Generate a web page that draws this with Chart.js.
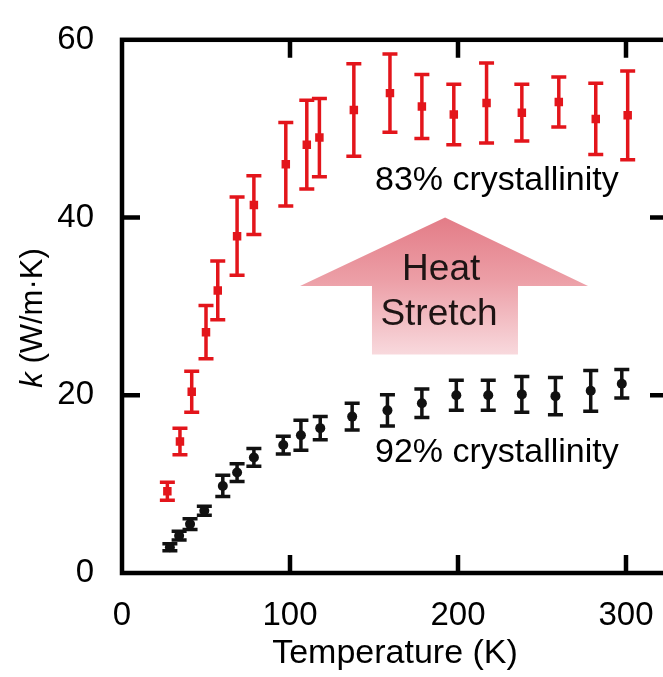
<!DOCTYPE html>
<html>
<head>
<meta charset="utf-8">
<script src="https://cdn.jsdelivr.net/npm/chart.js@4.4.0/dist/chart.umd.min.js"></script>
<style>
  html, body { margin: 0; padding: 0; background: #fff; overflow: hidden; }
  #graph { display: block; }
</style>
</head>
<body>
<canvas id="graph" width="680" height="677"></canvas>
<script>
// tick labels
const xTicks = [0, 100, 200, 300];
const yTicks = [0, 20, 40, 60];

// 83% crystallinity (heat stretched), red squares
const redTemp = [27, 34.5, 41.5, 50, 57, 68.5, 78.5, 97.5, 110, 117.5, 138, 159.5, 178.5, 197.5, 217, 238, 260, 282, 301];
const redK = [9.2, 14.8, 20.4, 27.1, 31.8, 37.9, 41.4, 46.0, 48.2, 49.0, 52.1, 54.0, 52.5, 51.6, 52.9, 51.8, 53.0, 51.1, 51.5];
const redErr = [1.0, 1.5, 2.3, 3.0, 3.3, 4.4, 3.3, 4.7, 5.0, 4.4, 5.2, 4.4, 3.6, 3.4, 4.5, 3.2, 2.8, 4.0, 5.0];

// 92% crystallinity, black dots
const blackTemp = [28.5, 34, 40.5, 49, 60, 68.5, 78.5, 96, 106.5, 118, 137, 158, 178.5, 199, 218, 238, 258, 279, 297.5];
const blackK = [2.9, 4.2, 5.5, 7.0, 9.8, 11.3, 13.0, 14.4, 15.5, 16.3, 17.6, 18.3, 19.1, 20.0, 20.0, 20.1, 19.9, 20.5, 21.3];
const blackErr = [0.4, 0.5, 0.6, 0.5, 1.2, 1.0, 1.0, 1.0, 1.7, 1.3, 1.5, 1.75, 1.6, 1.7, 1.7, 2.0, 2.1, 2.3, 1.6];

const RED = '#e3151b';
const BLACK = '#111111';
const FONT = 'Liberation Sans, Arial, sans-serif';

function points(xs, ys, es) {
    return xs.map((x, i) => ({ x: x, y: ys[i], err: es[i] }));
}

// error bars, drawn from the dataset values through the scales
const errorBars = {
    id: 'errorBars',
    beforeDatasetsDraw(chart) {
        const ctx = chart.ctx;
        const xs = chart.scales.x;
        const ys = chart.scales.y;
        chart.data.datasets.forEach(ds => {
            ctx.save();
            ctx.strokeStyle = ds.borderColor;
            ctx.lineWidth = 3.5;
            ds.data.forEach(p => {
                const x = xs.getPixelForValue(p.x);
                const y1 = ys.getPixelForValue(p.y - p.err);
                const y2 = ys.getPixelForValue(p.y + p.err);
                ctx.beginPath();
                ctx.moveTo(x, y1); ctx.lineTo(x, y2);
                ctx.moveTo(x - 7.5, y1); ctx.lineTo(x + 7.5, y1);
                ctx.moveTo(x - 7.5, y2); ctx.lineTo(x + 7.5, y2);
                ctx.stroke();
            });
            ctx.restore();
        });
    }
};

// arrow + text labels (placed in data units)
const annotations = {
    id: 'annotations',
    beforeDatasetsDraw(chart) {
        const ctx = chart.ctx;
        const xs = chart.scales.x;
        const ys = chart.scales.y;
        const X = v => xs.getPixelForValue(v);
        const Y = v => ys.getPixelForValue(v);

        const arrow = [
            [192.3, 40.0], [277.4, 32.3], [235.7, 32.3], [235.7, 24.6],
            [148.8, 24.6], [148.8, 32.3], [106, 32.3]
        ];
        const grad = ctx.createLinearGradient(0, Y(40), 0, Y(24.6));
        grad.addColorStop(0, '#e37c87');
        grad.addColorStop(0.45, '#ec9ea6');
        grad.addColorStop(1, '#f8d9dd');
        ctx.save();
        ctx.fillStyle = grad;
        ctx.beginPath();
        arrow.forEach((p, i) => {
            if (i === 0) ctx.moveTo(X(p[0]), Y(p[1]));
            else ctx.lineTo(X(p[0]), Y(p[1]));
        });
        ctx.closePath();
        ctx.fill();

        ctx.fillStyle = '#1e1414';
        ctx.textBaseline = 'middle';
        ctx.textAlign = 'center';
        ctx.font = '37px ' + FONT;
        ctx.fillText('Heat', X(190), Y(34.1));
        ctx.fillText('Stretch', X(188.7), Y(29.1));

        ctx.fillStyle = '#000';
        ctx.textAlign = 'left';
        ctx.font = '34px ' + FONT;
        ctx.fillText('83% crystallinity', X(150.6), Y(44.2));
        ctx.fillText('92% crystallinity', X(150.6), Y(13.5));
        ctx.restore();
    }
};

// box frame with inward ticks, plus the y axis title with italic k
const frame = {
    id: 'frame',
    afterDatasetsDraw(chart) {
        const ctx = chart.ctx;
        const a = chart.chartArea;
        const xs = chart.scales.x;
        const ys = chart.scales.y;
        ctx.save();
        ctx.strokeStyle = '#000';
        ctx.lineWidth = 4.5;
        ctx.strokeRect(a.left, a.top, a.right - a.left, a.bottom - a.top);
        ctx.beginPath();
        xTicks.forEach(v => {
            if (v === xs.min) return;
            const px = xs.getPixelForValue(v);
            ctx.moveTo(px, a.bottom); ctx.lineTo(px, a.bottom - 18);
            ctx.moveTo(px, a.top); ctx.lineTo(px, a.top + 18);
        });
        yTicks.forEach(v => {
            if (v === ys.min || v === ys.max) return;
            const py = ys.getPixelForValue(v);
            ctx.moveTo(a.left, py); ctx.lineTo(a.left + 18, py);
            ctx.moveTo(a.right, py); ctx.lineTo(a.right - 18, py);
        });
        ctx.stroke();

        // y title
        ctx.translate(33, 318);
        ctx.rotate(-Math.PI / 2);
        ctx.fillStyle = '#000';
        ctx.textBaseline = 'middle';
        ctx.textAlign = 'left';
        const italic = 'italic 31px ' + FONT;
        const normal = '31px ' + FONT;
        ctx.font = italic;
        const w1 = ctx.measureText('k').width;
        ctx.font = normal;
        const rest = ' (W/m\u00b7K)';
        const w2 = ctx.measureText(rest).width;
        const start = -(w1 + w2) / 2;
        ctx.font = italic;
        ctx.fillText('k', start, 0);
        ctx.font = normal;
        ctx.fillText(rest, start + w1, 0);
        ctx.restore();
    }
};

const ctx = document.getElementById('graph').getContext('2d');

new Chart(ctx, {
    type: 'scatter',
    data: {
        datasets: [
            {
                label: '83% crystallinity',
                data: points(redTemp, redK, redErr),
                backgroundColor: RED,
                borderColor: RED,
                pointStyle: 'rect',
                pointRadius: 6,
                pointBorderWidth: 0
            },
            {
                label: '92% crystallinity',
                data: points(blackTemp, blackK, blackErr),
                backgroundColor: BLACK,
                borderColor: BLACK,
                pointStyle: 'circle',
                pointRadius: 5,
                pointBorderWidth: 0
            }
        ]
    },
    options: {
        responsive: false,
        animation: false,
        devicePixelRatio: 1,
        layout: { padding: { top: 28, right: 12, left: 0, bottom: 0 } },
        plugins: {
            legend: { display: false },
            tooltip: { enabled: false }
        },
        scales: {
            x: {
                type: 'linear',
                min: 0,
                max: 325,
                grid: { display: false },
                border: { display: false },
                afterBuildTicks: s => { s.ticks = xTicks.map(v => ({ value: v })); },
                afterFit: s => { s.height = 104; },
                ticks: { color: '#000', padding: 15, maxRotation: 0, font: { family: FONT, size: 33 } },
                title: {
                    display: true,
                    text: 'Temperature (K)',
                    color: '#000',
                    font: { family: FONT, size: 34 },
                    padding: { top: 0, bottom: 3 }
                }
            },
            y: {
                type: 'linear',
                min: 0,
                max: 60,
                grid: { display: false },
                border: { display: false },
                afterBuildTicks: s => { s.ticks = yTicks.map(v => ({ value: v })); },
                afterFit: s => { s.width = 122; },
                ticks: { color: '#000', padding: 20, font: { family: FONT, size: 33 } }
            }
        }
    },
    plugins: [errorBars, annotations, frame]
});
</script>
</body>
</html>
